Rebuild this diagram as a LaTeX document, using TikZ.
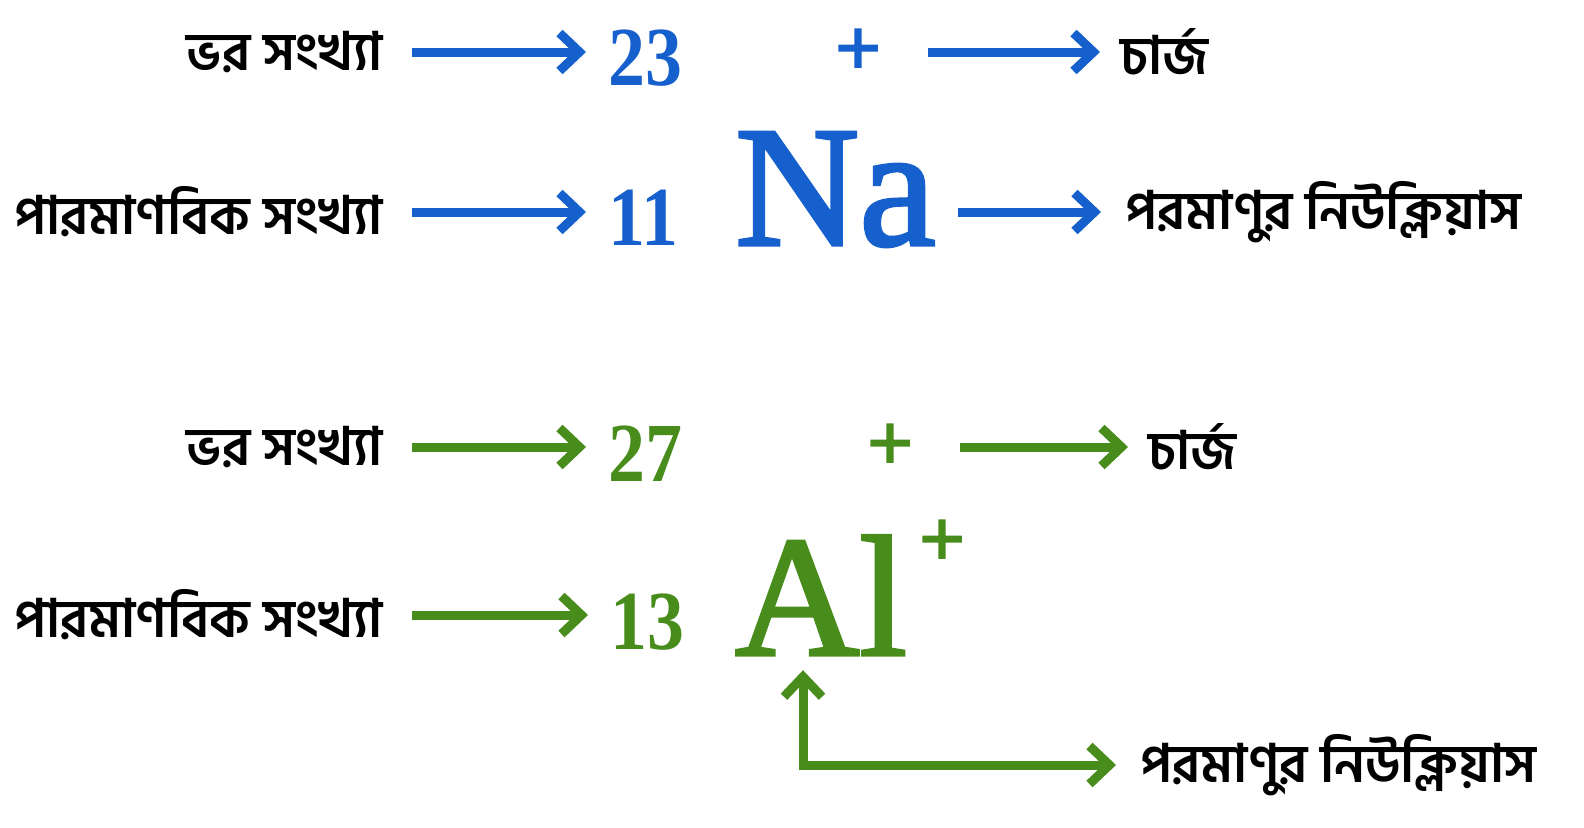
\documentclass[tikz,border=0pt]{standalone}
\usepackage{fontspec}
\usepackage{xcolor}
\usepackage{tikz}
\usetikzlibrary{arrows.meta}
\setmainfont{Liberation Serif}
\newfontfamily\bnfont[Script=Bengali]{Hind Siliguri}
\newfontfamily\elfont[FakeBold=2]{Liberation Serif}
\newfontfamily\plfont[FakeBold=4]{Liberation Serif}

\definecolor{nablue}{RGB}{22,96,205}
\definecolor{algreen}{RGB}{72,140,28}

\tikzset{
  lbl/.style={inner sep=0pt, font=\bnfont\bfseries\fontsize{53}{58}\selectfont},
  num/.style={inner sep=0pt, font=\bfseries\fontsize{84}{90}\selectfont, xscale=0.88},
  sym/.style={inner sep=0pt, font=\elfont\fontsize{172}{180}\selectfont},
  pls/.style={inner sep=0pt, font=\plfont\fontsize{78}{80}\selectfont},
  barr/.style={line width=9pt, -{Straight Barb[length=20pt, width=38pt]}},
}

\begin{document}
\begin{tikzpicture}[x=1pt, y=-1pt]
      \useasboundingbox (0,0) rectangle (1584,827);

      % sodium
      \node[lbl, anchor=east] (m1) at (383,52) {ভর সংখ্যা};
      \node[num, anchor=base west, nablue] (n23) at (608,85) {23};
      \node[pls, nablue] (p1) at (858,52) {+};
      \node[lbl, anchor=west] (c1) at (1120,52) {চার্জ};

      \node[lbl, anchor=east] (m2) at (383,212) {পারমাণবিক সংখ্যা};
      \node[num, anchor=base west, nablue] (n11) at (608,245) {11};
      \node[sym, anchor=base west, nablue] (na) at (735,245) {Na};
      \node[lbl, anchor=west] (nuc1) at (1125,212) {পরমাণুর নিউক্লিয়াস};

      \draw[barr, nablue, shorten <=29pt, shorten >=22pt] (m1.east) -- (m1.east -| n23.west);
      \draw[barr, nablue, shorten <=29pt, shorten >=22pt] (m2.east) -- (m2.east -| n11.west);
      \draw[barr, nablue, shorten <=48pt, shorten >=20pt] (p1.east) -- (c1.west);
      \draw[barr, nablue, shorten <=22pt, shorten >=24pt] (na.east |- nuc1.west) -- (nuc1.west);

      % aluminium
      \node[lbl, anchor=east] (m3) at (383,447) {ভর সংখ্যা};
      \node[num, anchor=base west, algreen] (n27) at (608,481) {27};
      \node[pls, algreen] (p3) at (890,447) {+};
      \node[lbl, anchor=west] (c3) at (1148,447) {চার্জ};

      \node[lbl, anchor=east] (m4) at (383,615) {পারমাণবিক সংখ্যা};
      \node[num, anchor=base west, algreen] (n13) at (610,649) {13};
      \node[sym, anchor=base west, algreen] (al) at (735,655) {Al};
      \node[pls, algreen] (p4) at (942,543) {+};
      \node[lbl, anchor=west] (nuc2) at (1140,765) {পরমাণুর নিউক্লিয়াস};

      \coordinate (bend) at (803,765);

      \draw[barr, algreen, shorten <=29pt, shorten >=22pt] (m3.east) -- (m3.east -| n27.west);
      \draw[barr, algreen, shorten <=29pt, shorten >=22pt] (m4.east) -- (m4.east -| n13.west);
      \draw[barr, algreen, shorten <=48pt, shorten >=20pt] (p3.east) -- (c3.west);
      \draw[barr, algreen, {Straight Barb[length=20pt, width=38pt]}-{Straight Barb[length=20pt, width=38pt]},
            shorten <=15pt, shorten >=24pt] (bend |- al.south) -- (bend) -- (bend -| nuc2.west);
\end{tikzpicture}
\end{document}
